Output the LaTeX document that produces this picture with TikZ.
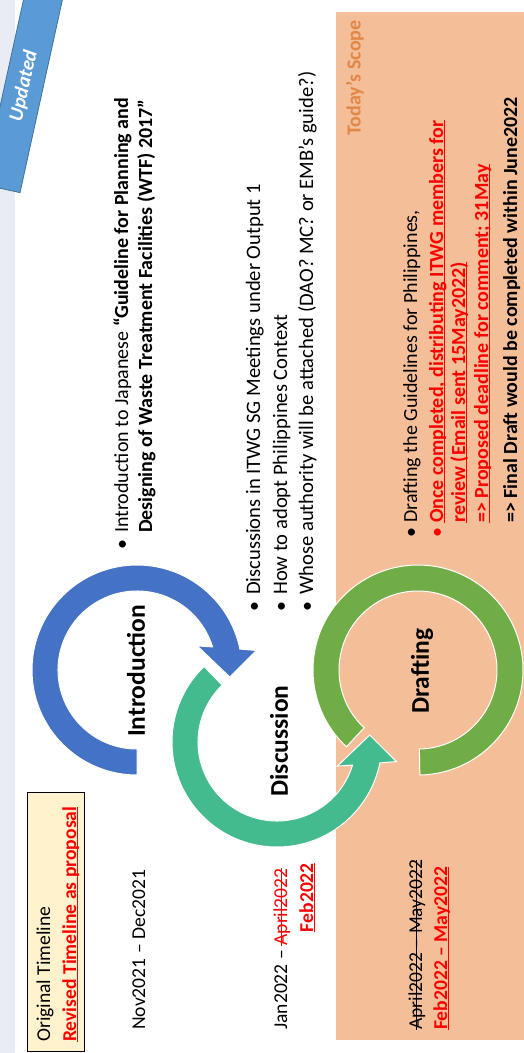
\documentclass[tikz,border=0pt]{standalone}
\usepackage{fontspec}
\setmainfont{Carlito}

\definecolor{stripgrey}{HTML}{E9EBF5}
\definecolor{scopepeach}{HTML}{F4BE98}
\definecolor{scopeorange}{HTML}{E38746}
\definecolor{tagblue}{HTML}{5B9BD5}
\definecolor{tagedge}{HTML}{41719C}
\definecolor{introblue}{HTML}{4472C4}
\definecolor{discteal}{HTML}{44BB8F}
\definecolor{draftgreen}{HTML}{70AD47}
\definecolor{notecream}{HTML}{FFF2CC}
\definecolor{alertred}{HTML}{FF0000}

\newcommand{\bodyfont}{\fontsize{20}{24}\selectfont}
\newcommand{\datefont}{\fontsize{19.6}{23.5}\selectfont}
\newcommand{\discfont}{\fontsize{20.6}{24.5}\selectfont}

% underline and strike-through drawn in the current text colour
\newsavebox{\markbox}
\newcommand{\undl}[1]{\sbox{\markbox}{#1}\rlap{\rule[-2.4pt]{\wd\markbox}{1.1pt}}\usebox{\markbox}}
\newcommand{\strk}[1]{\sbox{\markbox}{#1}\rlap{\rule[4.6pt]{\wd\markbox}{1.1pt}}\usebox{\markbox}}

\tikzset{
  txt/.style={rotate=90, inner sep=0pt, font=\bodyfont, anchor=base west},
  datetxt/.style={txt, font=\datefont},
  disctxt/.style={txt, font=\discfont},
  dot/.style={rotate=90, inner sep=0pt, font=\bodyfont, anchor=base},
  lbl/.style={rotate=90, inner sep=0pt, font=\fontsize{25.5}{30}\selectfont\bfseries},
  ring/.style={draw=white, line width=1pt}
}

\begin{document}
\begin{tikzpicture}[x=1pt, y=1pt]
\useasboundingbox (0,0) rectangle (524,-1053);
\clip (0,0) rectangle (524,-1053);

% page background, side strip and scope panel
\fill[white] (0,0) rectangle (524,-1053);
\fill[stripgrey] (0,0) rectangle (15,-1053);
\fill[scopepeach] (336,-12) rectangle (524,-1040);

% "Updated" tag
\node[rotate=77.6, fill=tagblue, draw=tagedge, line width=0.8pt,
      minimum width=210pt, minimum height=38pt, inner sep=0pt,
      text=white, font=\fontsize{20}{24}\selectfont\bfseries\itshape] (tag) at (24,-86) {Updated};

\node[rotate=90, inner sep=0pt, font=\bodyfont\bfseries, text=scopeorange] (scope) at (355,-78) {Today’s Scope};

% Introduction: circular arrow
\begin{scope}[shift={(137,-670)}]
\fill[introblue, ring] (270:105pt) arc[start angle=270, end angle=11.5, radius=105pt]
  -- (9.3:121pt) -- (-4.3:93pt) -- (21.7:65pt) -- (17:79pt)
  arc[start angle=17, end angle=270, radius=79pt] -- cycle;
\end{scope}

% Discussion: circular arrow
\begin{scope}[shift={(277,-742)}]
\fill[discteal, ring] (134:105pt) arc[start angle=134, end angle=348.5, radius=105pt]
  -- (350.7:121pt) -- (4.3:93pt) -- (338.3:65pt) -- (343:79pt)
  arc[start angle=343, end angle=134, radius=79pt] -- cycle;
\end{scope}

% Drafting: open ring
\begin{scope}[shift={(418,-670)}]
\fill[draftgreen, ring] (271:105pt) arc[start angle=271, end angle=587, radius=105pt]
  -- (587:79pt) arc[start angle=587, end angle=271, radius=79pt] -- cycle;
\end{scope}

\node[lbl] (intro) at (136,-671) {Introduction};
\node[lbl] (disc) at (279,-741) {Discussion};
\node[lbl] (draft) at (422,-671) {Drafting};

% timeline legend
\node[rotate=90, draw=black, fill=notecream, line width=0.8pt, inner sep=0pt,
      minimum width=259pt, minimum height=57pt] (legend) at (55.5,-921.5) {};
\node[datetxt] (orig) at (50,-1042) {Original Timeline};
\node[datetxt, text=alertred] (rev) at (76,-1042) {\textbf{\undl{Revised Timeline as proposal}}};

% dates
\node[datetxt] (nov) at (145,-1030) {Nov2021 – Dec2021};
\node[datetxt] (jan) at (287,-1030) {Jan2022 – \textcolor{alertred}{\strk{April2022}}};
\node[datetxt, anchor=base east, text=alertred] (feb) at (313,-863) {\textbf{\undl{Feb2022}}};
\node[datetxt] (aprmay) at (422,-1030) {\strk{April2022 – May2022}};
\node[datetxt, text=alertred] (febmay) at (447,-1030) {\textbf{\undl{Feb2022 – May2022}}};

% introduction notes
\node[dot] (ib1) at (128,-545) {•};
\node[txt] (i1) at (128,-533) {Introduction to Japanese \textbf{“Guideline for Planning and}};
\node[txt] (i2) at (152,-533) {\textbf{Designing of Waste Treatment Facilities (WTF) 2017”}};

% discussion notes
\node[dot] (db1) at (260,-607) {•};
\node[dot] (db2) at (287,-607) {•};
\node[dot] (db3) at (313,-607) {•};
\node[disctxt] (d1) at (260,-595) {Discussions in ITWG SG Meetings under Output 1};
\node[disctxt] (d2) at (287,-595) {How to adopt Philippines Context};
\node[disctxt] (d3) at (313,-595) {Whose authority will be attached (DAO? MC? or EMB’s guide?)};

% drafting notes
\node[dot] (fb1) at (417,-533) {•};
\node[dot, text=alertred] (fb2) at (443,-533) {•};
\node[txt] (f1) at (417,-523) {Drafting the Guidelines for Philippines,};
\node[txt, text=alertred] (f2) at (443,-523) {\textbf{\undl{Once completed, distributing ITWG members for}}};
\node[txt, text=alertred] (f3) at (465,-523) {\textbf{\undl{review (Email sent 15May2022)}}};
\node[txt, text=alertred] (f4) at (488,-523) {\textbf{\undl{=> Proposed deadline for comment; 31May}}};
\node[txt] (f5) at (517,-523) {\textbf{=> Final Draft would be completed within June2022}};
\end{tikzpicture}
\end{document}
